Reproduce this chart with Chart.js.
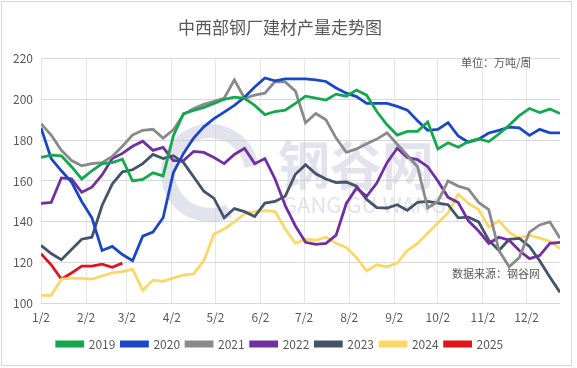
<!DOCTYPE html>
<html><head><meta charset="utf-8">
<script src="https://cdn.jsdelivr.net/npm/chart.js@4/dist/chart.umd.min.js"></script>
<style>html,body{margin:0;padding:0;background:#fff;}#wrap{width:577px;height:368px;}</style>
</head><body><div id="wrap"><canvas id="c" width="577" height="368"></canvas></div>
<script>
// week offsets (days after Jan 2) for the 52 weekly readings
const weekDays = [0,7,14,21,28,35,42,49,56,63,70,77,84,91,98,105,112,119,126,133,140,147,154,161,168,175,182,189,196,203,210,217,224,231,238,245,252,259,266,273,280,287,294,301,308,315,322,329,336,343,350,357];
// month tick positions (days after Jan 2) and their labels
const monthDays = [0,31,59,90,120,151,181,212,243,273,304,334];
const monthLabels = ['1/2','2/2','3/2','4/2','5/2','6/2','7/2','8/2','9/2','10/2','11/2','12/2'];
const years = ['2019','2020','2021','2022','2023','2024','2025'];

const s2019 = [171.5,172.7,172.3,167,161,165,168.5,169,170.7,160,160.8,164,162.5,182,193,194.5,196,198,200,201,200.5,197,192.5,194,194.7,198,201.5,200.5,199.6,202.5,201.5,204.5,202,194,187.5,182.5,184.3,184.3,188.9,175.7,178.7,176.5,179.3,180.6,179.3,183,187.3,192,195.5,193.5,195.2,193];
const s2020 = [186,171,165,159.5,150,142,126,128,124,121,133,135,142,164,173.5,181,186.5,190.5,193.7,197,201,206,210.4,209,210,210,210,209.5,208.7,205.5,203,201.3,198,198,198,196.5,194.7,189.5,184.8,185.3,188.6,182,179,180.5,183.5,184.8,186.4,186,182.3,185.3,183.6,183.6];
const s2021 = [188,182.5,175,170,167.5,168.5,169,172,177,182.5,184.8,185.3,181,185,192.5,195.5,197.5,199,200.5,209.5,200.5,202,203,208.7,208.5,204,188.5,193,190,181,174,175.7,178.2,180.5,183.6,178,172.5,167,146.8,150,160,157.5,156,149.5,146,126,118,122.5,135,138.5,140,132];
const s2022 = [149,149.5,161.5,161,154.5,157,163,171,173.5,177,179.5,175,176.5,170,170,174.5,174,171.5,168.5,173,176,168.5,171,161,148,138,130,129,129.5,133.5,149,156.5,152.5,159,169,176,171.5,170.5,167,160,152,149.5,140.5,135.5,129.5,132.5,131,126,122,123.5,129.5,130];
const s2023 = [128.5,124.5,121.5,126.5,131.5,132.5,148,158.5,164.5,165.5,168.5,173,171,172.4,169,162,155,151.5,142,146.5,145,142.6,149.2,150,152.6,163.3,168,163.5,161,159.2,159.5,157.5,151,147,146.8,148.4,145.6,149.6,150,149.2,148.4,142,142.3,140,131,126,131.4,131.9,128,121,113,105.5];
const s2024 = [104,104,112,112.5,112.3,112,113.5,115,115.6,116.7,106.5,111.5,110.9,112.5,114,114.5,121,134,136.5,140,144,145,145.5,145,136.5,129.5,131.5,131,132.5,129.5,127.5,122.5,116,119,118,119.8,126,129.4,134.5,139.5,144.5,153.5,149,146,137.5,140.5,135,132,133.5,132,130.5,127];
const s2025 = [124.4,119,112,115,118.3,118.3,119.3,117.8,119.8];

const colors = ['#14a84e','#1a47c8','#8a8a8a','#7030a0','#44546a','#f9d867','#e0141b'];
const seriesList = [s2019,s2020,s2021,s2022,s2023,s2024,s2025];

const datasets = seriesList.map((vals, k) => ({
  label: years[k],
  data: vals.map((v, i) => ({x: weekDays[i], y: v})),
  borderColor: colors[k],
  backgroundColor: colors[k],
  borderWidth: 2.8,
  pointRadius: 0,
  tension: 0,
  fill: false
}));

const FONT = '"Noto Sans CJK SC", "Liberation Sans", sans-serif';
const TXT = '#595959';

const decor = {
  id: 'decor',
  beforeDatasetsDraw(chart) {
    const ctx = chart.ctx;
    ctx.save();
    // watermark
    ctx.strokeStyle = 'rgba(200,200,222,0.5)';
    ctx.lineWidth = 14;
    ctx.beginPath();
    ctx.arc(210, 173, 42, 0.35 * Math.PI, 1.95 * Math.PI);
    ctx.stroke();
    ctx.fillStyle = 'rgba(200,200,222,0.5)';
    ctx.font = 'bold 52px ' + FONT;
    ctx.textAlign = 'left';
    ctx.textBaseline = 'middle';
    ctx.fillText('钢谷网', 278, 165);
    ctx.font = '22px ' + FONT;
    ctx.fillText('GANG GU WANG', 282, 205);
    ctx.restore();
  },
  afterDraw(chart) {
    const ctx = chart.ctx;
    ctx.save();
    ctx.fillStyle = TXT;
    ctx.font = '11px ' + FONT;
    ctx.textBaseline = 'middle';
    ctx.textAlign = 'left';
    ctx.fillText('单位：万吨/周', 461, 63);
    ctx.fillText('数据来源：钢谷网', 452, 274);
    ctx.strokeStyle = '#d9d9d9';
    ctx.lineWidth = 1;
    ctx.strokeRect(1.5, 1.5, 570, 364);
    ctx.restore();
  }
};

new Chart(document.getElementById('c'), {
  type: 'line',
  data: { datasets },
  plugins: [decor],
  options: {
    responsive: false,
    animation: false,
    layout: { padding: { left: 0, right: 17, top: 0, bottom: 8 } },
    plugins: {
      title: {
        display: true,
        text: '中西部钢厂建材产量走势图',
        color: TXT,
        font: { family: FONT, size: 17, weight: 'normal' },
        padding: { top: 17, bottom: 21 }
      },
      legend: {
        position: 'bottom',
        labels: {
          color: TXT,
          font: { family: FONT, size: 12 },
          boxWidth: 26,
          boxHeight: 4,
          padding: 6
        }
      },
      tooltip: { enabled: false }
    },
    scales: {
      x: {
        type: 'linear',
        min: 0,
        max: 357,
        afterBuildTicks(scale) {
          scale.ticks = monthDays.map(v => ({ value: v }));
        },
        ticks: {
          color: TXT,
          font: { family: FONT, size: 12 },
          padding: 7,
          maxRotation: 0,
          autoSkip: false,
          callback(value) {
            const i = monthDays.indexOf(value);
            return i >= 0 ? monthLabels[i] : '';
          }
        },
        grid: { color: '#e6e6e6', drawTicks: false },
        border: { display: false }
      },
      y: {
        min: 100,
        max: 220,
        afterFit(scale) { scale.width = 41; },
        ticks: {
          stepSize: 20,
          color: TXT,
          font: { family: FONT, size: 12 },
          padding: 8
        },
        grid: { color: '#d9d9d9', drawTicks: false },
        border: { display: false }
      }
    }
  }
});
</script>
</body></html>
